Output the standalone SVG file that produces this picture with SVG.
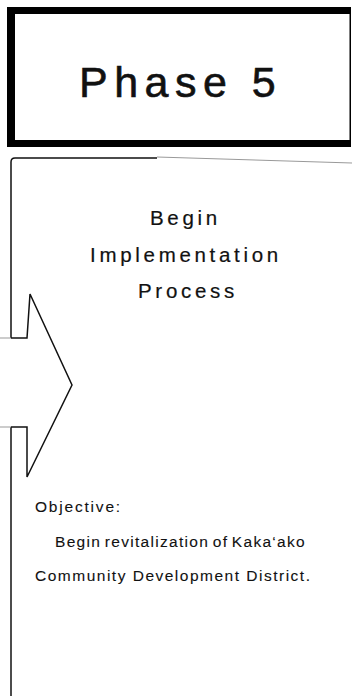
<svg xmlns="http://www.w3.org/2000/svg" width="352" height="696" viewBox="0 0 352 696">
<style>
.t{font-family:"Liberation Sans",Arial,sans-serif;fill:#111;stroke:#111}
.ln{fill:none;stroke:#111;stroke-width:1.5}
.gr{fill:none;stroke:#999;stroke-width:1}
</style>
<rect width="352" height="696" fill="#fff"/>
<g id="phase-box">
<path d="M7,7 H351 V147 H7 Z M15,14 V140 H349.5 V14 Z" fill="#000" fill-rule="evenodd"/>
<text class="t" x="79" y="97" font-size="43" letter-spacing="6.5" stroke-width="0.6">Phase 5</text>
</g>
<g id="content-box">
<path class="ln" d="M11,338 V162 Q11,158 15,158 H157"/>
<path class="gr" d="M157,157 L352,163"/>
<path class="ln" d="M11,427 V696"/>
<text class="t" font-size="20.5" letter-spacing="3.7" stroke-width="0.2">
<tspan x="150" y="225">Begin</tspan>
<tspan x="90" y="262">Implementation</tspan>
<tspan x="138" y="298">Process</tspan>
</text>
<text class="t" font-size="15.5" stroke-width="0.1">
<tspan x="35" y="512" letter-spacing="1.8">Objective:</tspan>
<tspan x="55" y="547" letter-spacing="1.3" word-spacing="-2">Begin revitalization of Kaka‘ako</tspan>
<tspan x="35" y="581" letter-spacing="1.5">Community Development District.</tspan>
</text>
</g>
<g id="connectors">
<path class="ln" d="M11,338 H27 L30,294 L72,385 L27,477 V427 H11"/>
<path class="gr" d="M0,338 H11 M0,427 H11"/>
</g>
</svg>
